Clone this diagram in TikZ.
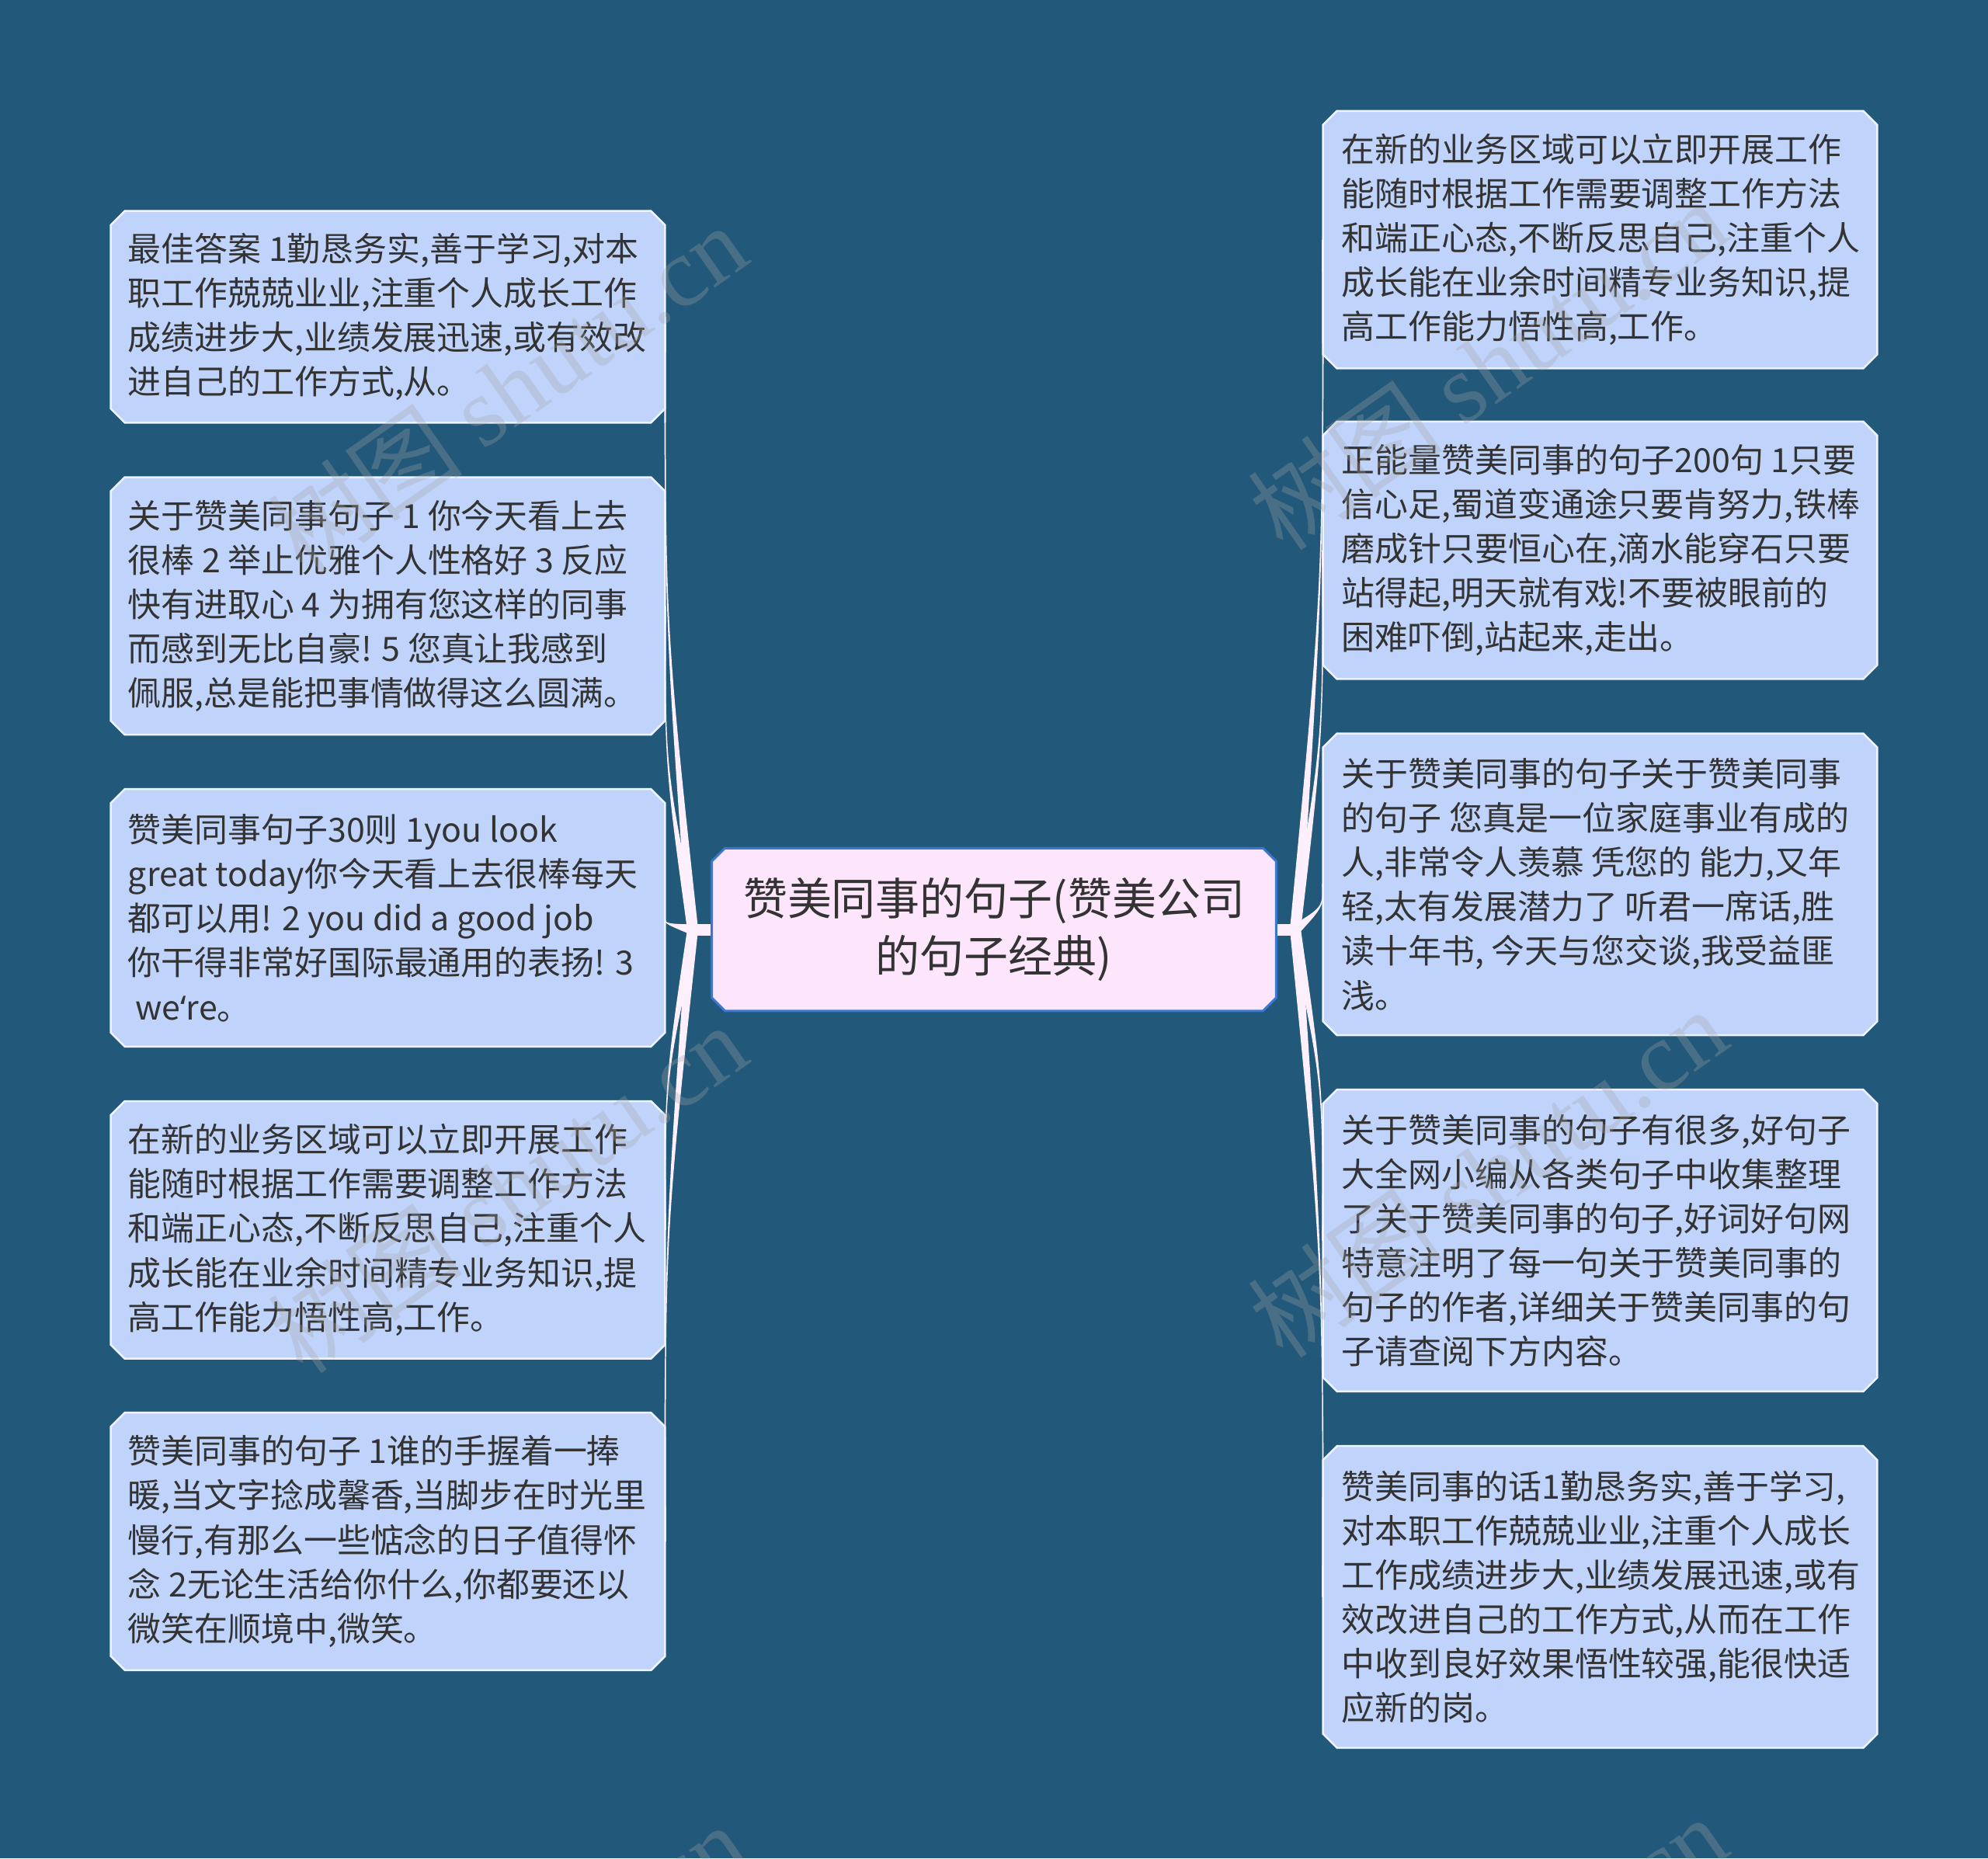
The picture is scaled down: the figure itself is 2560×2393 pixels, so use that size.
\documentclass[tikz,border=0pt]{standalone}
\usepackage{fontspec}
\setmainfont{Noto Sans CJK SC}
\newfontfamily\wmfont{Liberation Serif}
\newfontfamily\latfont{Noto Sans}
\usetikzlibrary{calc}
\definecolor{bgc}{HTML}{22587A}
\definecolor{boxc}{HTML}{BFD3FB}
\definecolor{boxline}{HTML}{EEF3FF}
\definecolor{cenc}{HTML}{FDE6FC}
\definecolor{cenline}{HTML}{3A78D0}
\definecolor{connc}{HTML}{FDF0FC}
\definecolor{txtc}{HTML}{333333}
\pgfdeclarelayer{background}
\pgfsetlayers{background,main}
\newcommand\chamf[3]{%
  \path[#2] ([xshift=#3]#1.north west) -- ([xshift=-#3]#1.north east) -- ([yshift=-#3]#1.north east) -- ([yshift=#3]#1.south east) -- ([xshift=-#3]#1.south east) -- ([xshift=#3]#1.south west) -- ([yshift=#3]#1.south west) -- ([yshift=-#3]#1.north west) -- cycle;}
\newcommand\branch[2]{%
  \coordinate (tmpm) at ($(#1)!0.5!(#2)$);
  \coordinate (tmpc) at (#2 |- tmpm);
  \fill[conn] ($(#1)!0.07cm!90:(#2)$) .. controls (tmpc) .. ($(#2)!0.015cm!-90:(#1)$) -- ($(#2)!0.015cm!90:(#1)$) .. controls (tmpc) .. ($(#1)!0.07cm!-90:(#2)$) -- cycle;}
\begin{document}
\begin{tikzpicture}[x=0.01cm,y=-0.01cm,
  box/.style={rectangle, draw=none, inner sep=0pt, minimum width=7.12cm},
  btxt/.style={anchor=west, align=left, inner sep=0pt, text=txtc, font=\fontsize{12.2pt}{16.25pt}\selectfont},
  ctxt/.style={align=center, inner sep=0pt, text=txtc, font=\fontsize{16.2pt}{20.9pt}\selectfont},
  boxfill/.style={fill=boxc, draw=boxline, line width=0.025cm},
  cfill/.style={fill=cenc, draw=cenline, line width=0.03cm},
  conn/.style={fill=connc},
  wm/.style={rotate=35, text=gray!70, opacity=0.3, font=\fontsize{36pt}{40pt}\selectfont}]
\useasboundingbox (0,0) rectangle (2560,2393);

% center
\node[rectangle, inner sep=0pt, minimum width=7.25cm, minimum height=2.08cm] (C) at (1280,1197) {};
\node[ctxt] (Ct) at (C.center) {赞美同事的句子(赞美公司\\的句子经典)};
\coordinate (HL) at (892,1197);
\coordinate (HR) at (1668,1197);

% left boxes
\node[box, minimum height=2.71cm] (L1) at (499.5,408) {};
\node[box, minimum height=3.30cm] (L2) at (499.5,780.4) {};
\node[box, minimum height=3.30cm] (L3) at (499.5,1182) {};
\node[box, minimum height=3.30cm] (L4) at (499.5,1583.8) {};
\node[box, minimum height=3.30cm] (L5) at (499.5,1985) {};
% right boxes
\node[box, minimum height=3.30cm] (R1) at (2060.5,308.6) {};
\node[box, minimum height=3.30cm] (R2) at (2060.5,708.6) {};
\node[box, minimum height=3.87cm] (R3) at (2060.5,1138.8) {};
\node[box, minimum height=3.87cm] (R4) at (2060.5,1597.5) {};
\node[box, minimum height=3.87cm] (R5) at (2060.5,2056.5) {};

\node[btxt] (L1t) at ([xshift=0.215cm]L1.west) {最佳答案 1勤恳务实,善于学习,对本\\职工作兢兢业业,注重个人成长工作\\成绩进步大,业绩发展迅速,或有效改\\进自己的工作方式,从。};
\node[btxt] (L2t) at ([xshift=0.215cm]L2.west) {关于赞美同事句子 1 你今天看上去\\很棒 2 举止优雅个人性格好 3 反应\\快有进取心 4 为拥有您这样的同事\\而感到无比自豪! 5 您真让我感到\\佩服,总是能把事情做得这么圆满。};
\node[btxt] (L3t) at ([xshift=0.215cm]L3.west) {赞美同事句子30则 1you look\\great today你今天看上去很棒每天\\都可以用! 2 you did a good job\\你干得非常好国际最通用的表扬! 3\\\ we{\latfont ‘}re。};
\node[btxt] (L4t) at ([xshift=0.215cm]L4.west) {在新的业务区域可以立即开展工作\\能随时根据工作需要调整工作方法\\和端正心态,不断反思自己,注重个人\\成长能在业余时间精专业务知识,提\\高工作能力悟性高,工作。};
\node[btxt] (L5t) at ([xshift=0.215cm]L5.west) {赞美同事的句子 1谁的手握着一捧\\暖,当文字捻成馨香,当脚步在时光里\\慢行,有那么一些惦念的日子值得怀\\念 2无论生活给你什么,你都要还以\\微笑在顺境中,微笑。};

\node[btxt] (R1t) at ([xshift=0.235cm]R1.west) {在新的业务区域可以立即开展工作\\能随时根据工作需要调整工作方法\\和端正心态,不断反思自己,注重个人\\成长能在业余时间精专业务知识,提\\高工作能力悟性高,工作。};
\node[btxt] (R2t) at ([xshift=0.235cm]R2.west) {正能量赞美同事的句子200句 1只要\\信心足,蜀道变通途只要肯努力,铁棒\\磨成针只要恒心在,滴水能穿石只要\\站得起,明天就有戏!不要被眼前的\\困难吓倒,站起来,走出。};
\node[btxt] (R3t) at ([xshift=0.235cm]R3.west) {关于赞美同事的句子关于赞美同事\\的句子 您真是一位家庭事业有成的\\人,非常令人羡慕 凭您的 能力,又年\\轻,太有发展潜力了 听君一席话,胜\\读十年书, 今天与您交谈,我受益匪\\浅。};
\node[btxt] (R4t) at ([xshift=0.235cm]R4.west) {关于赞美同事的句子有很多,好句子\\大全网小编从各类句子中收集整理\\了关于赞美同事的句子,好词好句网\\特意注明了每一句关于赞美同事的\\句子的作者,详细关于赞美同事的句\\子请查阅下方内容。};
\node[btxt] (R5t) at ([xshift=0.235cm]R5.west) {赞美同事的话1勤恳务实,善于学习,\\对本职工作兢兢业业,注重个人成长\\工作成绩进步大,业绩发展迅速,或有\\效改进自己的工作方式,从而在工作\\中收到良好效果悟性较强,能很快适\\应新的岗。};

\begin{pgfonlayer}{background}
\fill[bgc] (0,0) rectangle (2560,2393);
% stubs
\fill[conn] ([yshift=0.075cm]C.west) rectangle ([yshift=-0.075cm]HL);
\fill[conn] ([yshift=0.075cm]C.east) rectangle ([yshift=-0.075cm]HR);
% branches
\branch{HL}{L1.east}
\branch{HL}{L2.east}
\branch{HL}{L3.east}
\branch{HL}{L4.east}
\branch{HL}{L5.east}
\branch{HR}{R1.west}
\branch{HR}{R2.west}
\branch{HR}{R3.west}
\branch{HR}{R4.west}
\branch{HR}{R5.west}
% boxes
\chamf{C}{cfill}{0.17cm}
\chamf{L1}{boxfill}{0.18cm}
\chamf{L2}{boxfill}{0.18cm}
\chamf{L3}{boxfill}{0.18cm}
\chamf{L4}{boxfill}{0.18cm}
\chamf{L5}{boxfill}{0.18cm}
\chamf{R1}{boxfill}{0.18cm}
\chamf{R2}{boxfill}{0.18cm}
\chamf{R3}{boxfill}{0.18cm}
\chamf{R4}{boxfill}{0.18cm}
\chamf{R5}{boxfill}{0.18cm}
\end{pgfonlayer}

% watermarks
\node[wm] (W1) at (653,500) {树图 {\wmfont shutu.cn}};
\node[wm] (W2) at (653,1530) {树图 {\wmfont shutu.cn}};
\node[wm] (W3) at (653,2560) {树图 {\wmfont shutu.cn}};
\node[wm] (W4) at (1915,470) {树图 {\wmfont shutu.cn}};
\node[wm] (W5) at (1915,1510) {树图 {\wmfont shutu.cn}};
\node[wm] (W6) at (1915,2550) {树图 {\wmfont shutu.cn}};
\end{tikzpicture}
\end{document}
